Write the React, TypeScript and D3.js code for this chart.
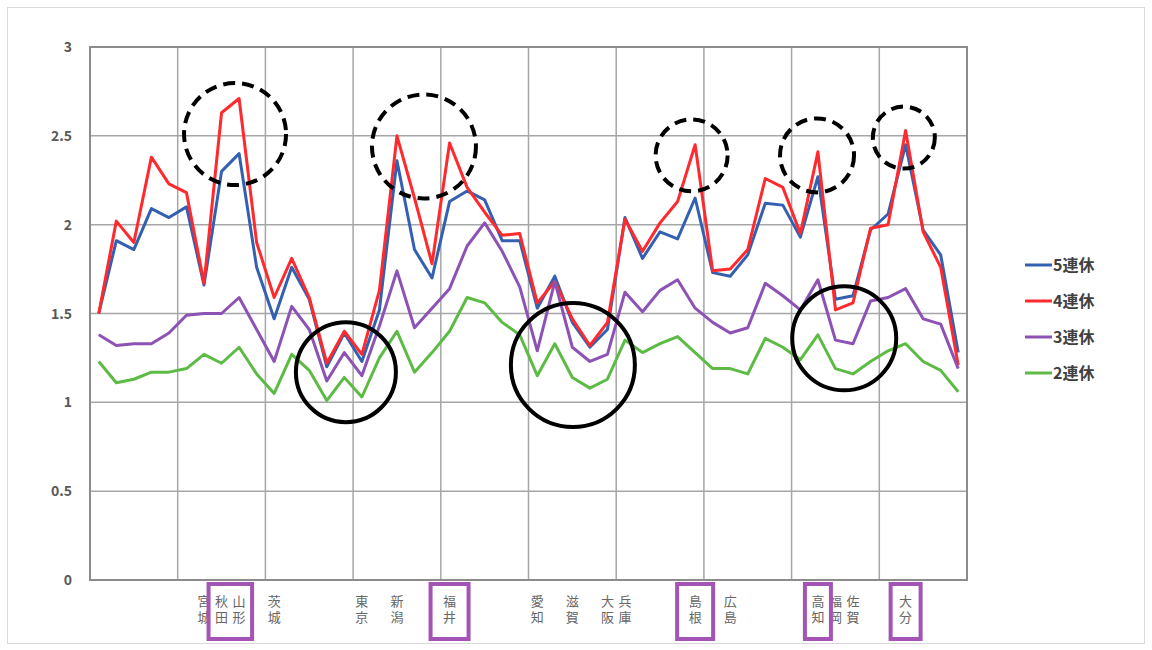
import React from "react";
import * as d3 from "d3";

const categories = [
  "道北", "道東", "道央", "道南", "青森", "岩手", "宮城", "秋田", "山形", "福島",
  "茨城", "栃木", "群馬", "埼玉", "千葉", "東京", "神奈川", "新潟", "富山", "石川",
  "福井", "山梨", "長野", "岐阜", "静岡", "愛知", "三重", "滋賀", "京都", "大阪",
  "兵庫", "奈良", "和歌山", "鳥取", "島根", "岡山", "広島", "山口", "徳島", "香川",
  "愛媛", "高知", "福岡", "佐賀", "長崎", "熊本", "大分", "宮崎", "鹿児島", "沖縄",
];

const series5 = [
  1.50, 1.91, 1.86, 2.09, 2.04, 2.10, 1.66, 2.30, 2.40, 1.76,
  1.47, 1.76, 1.58, 1.20, 1.39, 1.23, 1.52, 2.36, 1.86, 1.70,
  2.13, 2.19, 2.14, 1.91, 1.91, 1.53, 1.71, 1.45, 1.31, 1.41,
  2.04, 1.81, 1.96, 1.92, 2.15, 1.73, 1.71, 1.83, 2.12, 2.11,
  1.93, 2.27, 1.58, 1.60, 1.97, 2.06, 2.45, 1.97, 1.83, 1.28,
];
const series4 = [
  1.50, 2.02, 1.90, 2.38, 2.23, 2.18, 1.67, 2.63, 2.71, 1.90,
  1.59, 1.81, 1.59, 1.22, 1.40, 1.27, 1.63, 2.50, 2.15, 1.78,
  2.46, 2.21, 2.07, 1.94, 1.95, 1.56, 1.68, 1.47, 1.32, 1.45,
  2.03, 1.85, 2.01, 2.13, 2.45, 1.74, 1.75, 1.86, 2.26, 2.21,
  1.95, 2.41, 1.52, 1.56, 1.98, 2.00, 2.53, 1.96, 1.76, 1.21,
];
const series3 = [
  1.38, 1.32, 1.33, 1.33, 1.39, 1.49, 1.50, 1.50, 1.59, 1.41,
  1.23, 1.54, 1.41, 1.12, 1.28, 1.15, 1.43, 1.74, 1.42, 1.53,
  1.64, 1.88, 2.01, 1.85, 1.65, 1.29, 1.68, 1.31, 1.23, 1.27,
  1.62, 1.51, 1.63, 1.69, 1.53, 1.45, 1.39, 1.42, 1.67, 1.60,
  1.52, 1.69, 1.35, 1.33, 1.57, 1.59, 1.64, 1.47, 1.44, 1.19,
];
const series2 = [
  1.23, 1.11, 1.13, 1.17, 1.17, 1.19, 1.27, 1.22, 1.31, 1.16,
  1.05, 1.27, 1.18, 1.01, 1.14, 1.03, 1.25, 1.40, 1.17, 1.28,
  1.40, 1.59, 1.56, 1.45, 1.38, 1.15, 1.33, 1.14, 1.08, 1.13,
  1.35, 1.28, 1.33, 1.37, 1.28, 1.19, 1.19, 1.16, 1.36, 1.31,
  1.24, 1.38, 1.19, 1.16, 1.23, 1.29, 1.33, 1.23, 1.18, 1.06,
];

const seriesNames = ["5連休", "4連休", "3連休", "2連休"];
const seriesColors = ["#3460b2", "#ff2a2e", "#8c52b4", "#5dbb45"];
const seriesData = [series5, series4, series3, series2];

const yTicks = [0, 0.5, 1, 1.5, 2, 2.5, 3];
const yTickLabels = ["0", "0.5", "1", "1.5", "2", "2.5", "3"];

// prefectures shown on the axis
const shownLabels = [
  "宮城", "秋田", "山形", "茨城", "東京", "新潟", "福井", "愛知", "滋賀",
  "大阪", "兵庫", "島根", "広島", "高知", "福岡", "佐賀", "大分",
];
// boxed labels: [first, last, half-width padding]
const boxedLabels: [string, string, number][] = [
  ["秋田", "山形", 13],
  ["福井", "福井", 19],
  ["島根", "島根", 18],
  ["高知", "高知", 13],
  ["大分", "大分", 15],
];
// annotation circles: [category position, value, radius, dashed]
const circles: [number, number, number, boolean][] = [
  [7.77, 2.51, 51, true],
  [18.54, 2.44, 52, true],
  [33.8, 2.39, 36, true],
  [40.95, 2.39, 37, true],
  [45.9, 2.49, 31, true],
  [14.09, 1.17, 50, false],
  [27.03, 1.21, 62, false],
  [42.5, 1.36, 52, false],
];

export default function App() {
  const W = 1152, H = 650;
  const left = 90, right = 967, top = 47, bottom = 580;

  const x = d3.scaleBand<string>().domain(categories).range([left, right]).padding(0);
  const bw = x.bandwidth();
  const cx = (c: string) => (x(c) as number) + bw / 2;
  const xi = d3.scaleLinear().domain([0, categories.length - 1]).range([cx(categories[0]), cx(categories[categories.length - 1])]);
  const y = d3.scaleLinear().domain([0, 3]).range([bottom, top]);

  const line = d3.line<number>().x((_, i) => cx(categories[i])).y((d) => y(d));

  const vGrid = d3.range(5, categories.length, 5).map((i) => x(categories[i]) as number);

  const font = "'Noto Sans CJK JP', 'Noto Sans', sans-serif";

  return (
    <svg width={W} height={H} style={{ position: "absolute", left: 0, top: 0, background: "#fff" }}>
      <rect x={7.5} y={7.5} width={1137} height={636} fill="#fff" stroke="#d9d9d9" strokeWidth={1} />
      {/* gridlines */}
      {yTicks.slice(1, -1).map((t) => (
        <line key={"h" + t} x1={left} x2={right} y1={y(t)} y2={y(t)} stroke="#a6a6a6" strokeWidth={1.5} />
      ))}
      {vGrid.map((gx, i) => (
        <line key={"v" + i} x1={gx} x2={gx} y1={top} y2={bottom} stroke="#a6a6a6" strokeWidth={1.5} />
      ))}
      <rect x={left} y={top} width={right - left} height={bottom - top} fill="none" stroke="#8c8c8c" strokeWidth={2} />
      {/* y tick labels */}
      {yTicks.map((t, i) => (
        <text key={"yl" + t} x={72} y={y(t) + 5} textAnchor="end" fontFamily={font} fontSize={14} fontWeight={600} fill="#595959">
          {yTickLabels[i]}
        </text>
      ))}
      {/* series */}
      {seriesData.map((s, si) => (
        <path key={"s" + si} d={line(s) || ""} fill="none" stroke={seriesColors[si]} strokeWidth={3} strokeLinejoin="round" />
      ))}
      {/* annotation circles */}
      {circles.map(([k, v, r, dashed], i) => (
        <circle key={"c" + i} cx={xi(k)} cy={y(v)} r={r} fill="none" stroke="#000" strokeWidth={4}
          strokeDasharray={dashed ? "12 7" : undefined} />
      ))}
      {/* x labels (vertical writing, two characters stacked) */}
      {shownLabels.map((lab) => (
        <text key={"xl" + lab} x={cx(lab)} y={595} fontFamily={font} fontSize={13} fill="#666"
          style={{ writingMode: "vertical-rl", letterSpacing: "3px" } as React.CSSProperties}>
          {lab}
        </text>
      ))}
      {boxedLabels.map(([a, b, pad], i) => {
        const x0 = cx(a) - pad;
        const x1 = cx(b) + pad;
        return (
          <rect key={"bx" + i} x={x0} y={584} width={x1 - x0} height={55} fill="none" stroke="#a354b4" strokeWidth={4} />
        );
      })}
      {/* legend */}
      {seriesNames.map((n, i) => (
        <g key={"lg" + n} transform={`translate(1025, ${265 + i * 36})`}>
          <line x1={0} x2={27} y1={0} y2={0} stroke={seriesColors[i]} strokeWidth={3} />
          <text x={28} y={6} fontFamily={font} fontSize={16} fontWeight={600} fill="#404040">{n}</text>
        </g>
      ))}
    </svg>
  );
}
